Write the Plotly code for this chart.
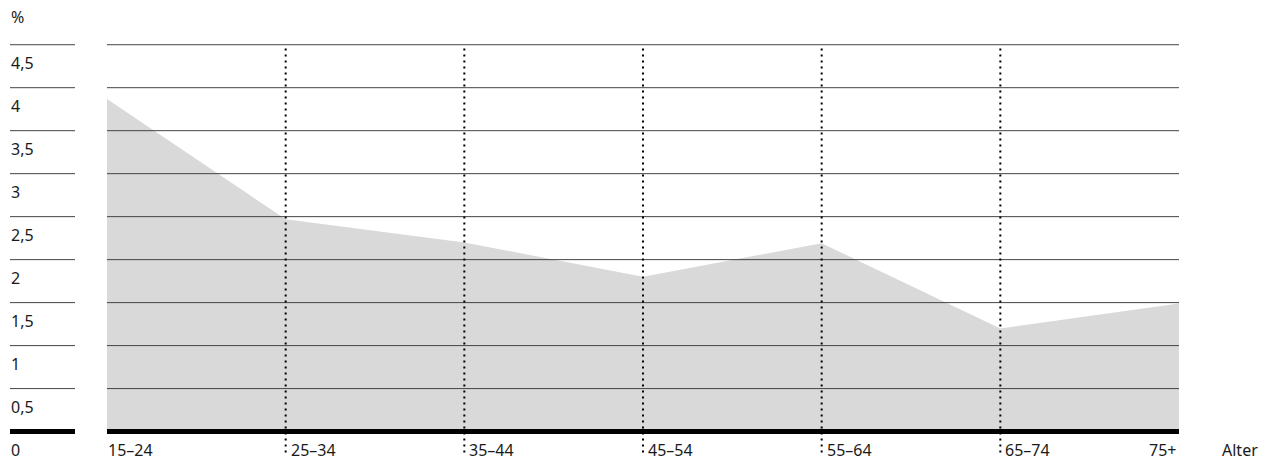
import plotly.graph_objects as go

categories = ["15–24", "25–34", "35–44", "45–54", "55–64", "65–74", "75+"]
values = [3.87, 2.47, 2.20, 1.80, 2.19, 1.20, 1.49]
y_ticks = [0, 0.5, 1, 1.5, 2, 2.5, 3, 3.5, 4, 4.5]
y_labels = ["0", "0,5", "1", "1,5", "2", "2,5", "3", "3,5", "4", "4,5"]

W, H = 1275, 462
L, R = 107, 1179
YMIN, YMAX = -0.04, 4.52
PX_PER_UNIT = 86
plot_h = (YMAX - YMIN) * PX_PER_UNIT
y_zero_px = 432
top_px = y_zero_px - YMAX * PX_PER_UNIT
bottom_px = top_px + plot_h

FONT = "Noto Sans"
FS = 16
TXT = "#1a1a1a"

x_idx = list(range(len(categories)))

fig = go.Figure()
fig.add_trace(go.Scatter(
    x=x_idx, y=values, mode="lines", fill="tozeroy",
    fillcolor="#d9d9d9", line=dict(width=0, color="#d9d9d9"),
    hoverinfo="skip", showlegend=False,
))

def paper_x(px):
    return (px - L) / (R - L)

def paper_y_from_val(v):
    return (v - YMIN) / (YMAX - YMIN)

shapes = []
# horizontal gridlines drawn above the area, plus the short lines at the left
for v in y_ticks:
    if v == 0:
        continue
    shapes.append(dict(
        type="line", xref="paper", yref="y", x0=0, x1=1, y0=v, y1=v,
        line=dict(color="#444444", width=1), layer="above",
    ))
for v in y_ticks:
    shapes.append(dict(
        type="line", xref="paper", yref="y",
        x0=paper_x(10), x1=paper_x(75), y0=v, y1=v,
        line=dict(color="#000000" if v == 0 else "#444444", width=5 if v == 0 else 1),
    ))
# dotted vertical separators
for i in x_idx[1:-1]:
    shapes.append(dict(
        type="line", xref="x", yref="paper",
        x0=i, x1=i,
        y0=-(453 - bottom_px) / plot_h, y1=paper_y_from_val(y_ticks[-1]),
        line=dict(color="#000000", width=2, dash="2px,4px"),
        layer="above",
    ))
# thick baseline
shapes.append(dict(
    type="line", xref="paper", yref="y", x0=0, x1=1, y0=0, y1=0,
    line=dict(color="#000000", width=5), layer="above",
))

annotations = []
for v, lab in zip(y_ticks, y_labels):
    annotations.append(dict(
        xref="paper", yref="y", x=paper_x(9), y=v, yshift=-18,
        text=lab, showarrow=False, xanchor="left", yanchor="middle",
        font=dict(family=FONT, size=FS, color=TXT),
    ))
for i, lab in zip(x_idx, categories):
    if i == x_idx[-1]:
        xa, xs = "right", -1
    else:
        xa, xs = "left", (3 if i > 0 else -1)
    annotations.append(dict(
        xref="x", yref="y", x=i, y=0, yshift=-18, xshift=xs,
        text=lab, showarrow=False, xanchor=xa, yanchor="middle",
        font=dict(family=FONT, size=FS, color=TXT),
    ))
annotations.append(dict(
    xref="paper", yref="y", x=paper_x(1220), y=0, yshift=-18,
    text="Alter", showarrow=False, xanchor="left", yanchor="middle",
    font=dict(family=FONT, size=FS, color=TXT),
))
annotations.append(dict(
    xref="paper", yref="paper", x=paper_x(9), y=(bottom_px - 17) / plot_h,
    text="%", showarrow=False, xanchor="left", yanchor="middle",
    font=dict(family=FONT, size=FS, color=TXT),
))

fig.update_layout(
    width=W, height=H,
    margin=dict(l=L, r=W - R, t=top_px, b=H - bottom_px, pad=0),
    paper_bgcolor="white", plot_bgcolor="white",
    xaxis=dict(range=[0, len(categories) - 1], showgrid=False, zeroline=False,
               showticklabels=False, ticks="", showline=False, fixedrange=True),
    yaxis=dict(range=[YMIN, YMAX], tickvals=y_ticks, showgrid=False,
               zeroline=False, showticklabels=False, ticks="", showline=False,
               fixedrange=True),
    shapes=shapes, annotations=annotations, showlegend=False,
)

fig.write_html(
    "out.html",
    config={"displayModeBar": False},
    post_script="document.body.style.margin='0';document.body.style.overflow='hidden';",
)
